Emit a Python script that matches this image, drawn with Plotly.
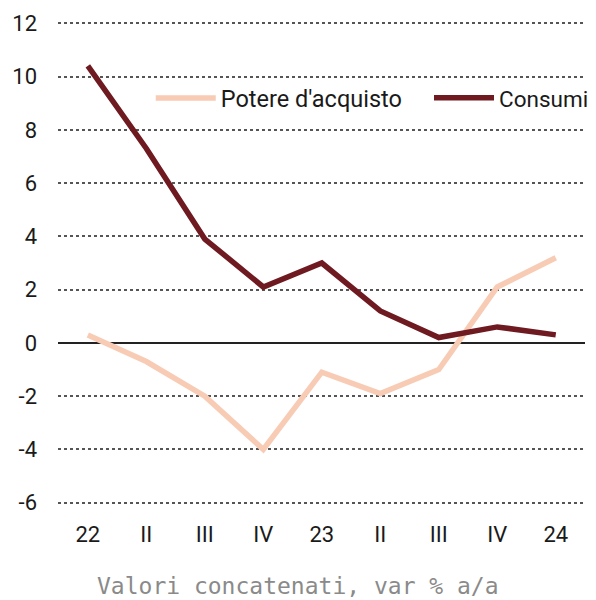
import plotly.graph_objects as go

labels = ["22", "II", "III", "IV", "23", "II", "III", "IV", "24"]
potere = [0.3, -0.7, -2.0, -4.0, -1.1, -1.9, -1.0, 2.1, 3.2]
consumi = [10.4, 7.3, 3.9, 2.1, 3.0, 1.2, 0.2, 0.6, 0.3]
yticks = [-6, -4, -2, 0, 2, 4, 6, 8, 10, 12]
ytick_labels = ["-6", "-4", "-2", "0", "2", "4", "6", "8", "10", "12"]

x = list(range(len(labels)))

fig = go.Figure()
fig.add_trace(go.Scatter(x=x, y=potere, mode="lines", name="Potere d'acquisto",
                         line=dict(color="#f8cbb5", width=5.5), legend="legend"))
fig.add_trace(go.Scatter(x=x, y=consumi, mode="lines", name="Consumi",
                         line=dict(color="#6e1a20", width=5.5), legend="legend2"))

leg_common = dict(orientation="h", xanchor="left", yanchor="middle",
                  bgcolor="rgba(0,0,0,0)", itemwidth=60)

fig.update_layout(
    width=588, height=592,
    margin=dict(l=50, r=11, t=14, b=96, autoexpand=False),
    plot_bgcolor="white", paper_bgcolor="white",
    font=dict(family="Roboto", size=22, color="#1a1a1a"),
    showlegend=True,
    legend=dict(x=0.176, y=0.842, font=dict(family="Roboto", size=23.5), **leg_common),
    legend2=dict(x=0.704, y=0.842, font=dict(family="Roboto", size=22.5), **leg_common),
    annotations=[dict(text="Valori concatenati, var % a/a", xref="paper", yref="paper",
                      x=0.455, y=-0.170, xanchor="center", yanchor="middle", showarrow=False,
                      font=dict(family="DejaVu Sans Mono", size=23, color="#8a8a8a"))],
)
fig.update_xaxes(tickvals=x, ticktext=labels, range=[-0.51, 8.5], showgrid=False,
                 zeroline=False, showline=False, ticks="", ticklabelstandoff=15,
                 automargin=False)
fig.update_yaxes(range=[-6.05, 12.05], tickvals=yticks, ticktext=ytick_labels,
                 showgrid=True, gridcolor="#555555",
                 griddash="dot", gridwidth=1.5, zeroline=True, zerolinecolor="#222222",
                 zerolinewidth=2, ticks="", ticklabelstandoff=20, automargin=False)

fig.write_html("out.html")
